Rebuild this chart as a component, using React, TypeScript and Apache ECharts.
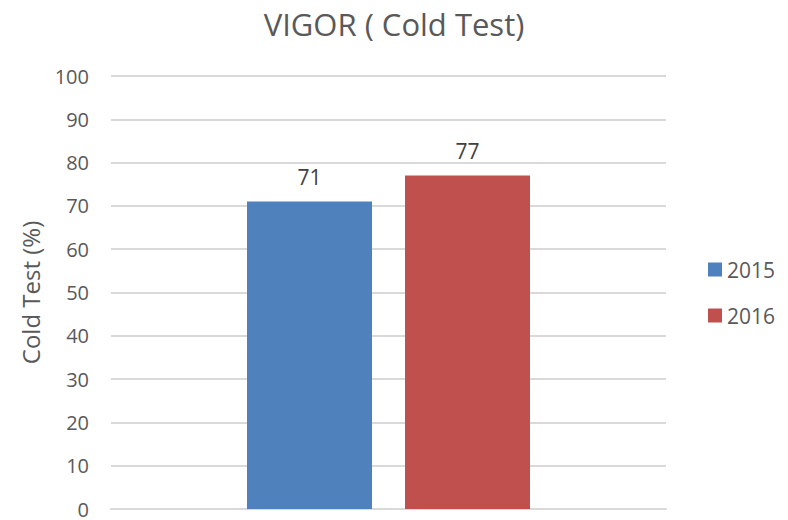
import React, { useEffect, useRef } from "react";
import * as echarts from "echarts";

const categories = ["VIGOR"];
const seriesNames = ["2015", "2016"];
const values2015 = [71];
const values2016 = [77];
const colors = ["#4f81bd", "#c0504d"];

const FONT = "'Open Sans', sans-serif";

export default function App() {
  const ref = useRef<HTMLDivElement>(null);
  useEffect(() => {
    const chart = echarts.init(ref.current!, undefined, { renderer: "svg" });
    chart.setOption({
      animation: false,
      textStyle: { fontFamily: FONT },
      title: {
        text: "VIGOR ( Cold Test)",
        left: "center",
        top: 3,
        textStyle: { fontFamily: FONT, fontSize: 31, fontWeight: "normal", color: "#595959" },
      },
      legend: {
        orient: "vertical",
        left: 708,
        top: 259,
        padding: 0,
        itemWidth: 14,
        itemHeight: 14,
        itemGap: 25,
        icon: "rect",
        textStyle: { fontFamily: FONT, fontSize: 21, color: "#595959" },
        data: seriesNames,
      },
      grid: { left: 111, right: 122, top: 76, bottom: 11 },
      xAxis: {
        type: "category",
        data: categories,
        axisLine: { show: true, lineStyle: { color: "#d9d9d9", width: 2 } },
        axisTick: { show: false },
        axisLabel: { show: false },
      },
      yAxis: {
        type: "value",
        min: 0,
        max: 100,
        interval: 10,
        name: "Cold Test (%)",
        nameLocation: "middle",
        nameGap: 69,
        nameTextStyle: { fontFamily: FONT, fontSize: 24, color: "#595959" },
        axisLine: { show: false },
        axisTick: { show: false },
        axisLabel: { fontFamily: FONT, fontSize: 20, lineHeight: 16, color: "#595959", margin: 22 },
        splitLine: { lineStyle: { color: "#d9d9d9", width: 2 } },
      },
      series: [
        {
          name: seriesNames[0],
          type: "bar",
          data: values2015,
          barWidth: 125,
          barGap: "26.4%",
          itemStyle: { color: colors[0] },
          label: { show: true, position: "top", distance: 14, fontFamily: FONT, fontSize: 21, color: "#404040" },
        },
        {
          name: seriesNames[1],
          type: "bar",
          data: values2016,
          barWidth: 125,
          barGap: "26.4%",
          itemStyle: { color: colors[1] },
          label: { show: true, position: "top", distance: 14, fontFamily: FONT, fontSize: 21, color: "#404040" },
        },
      ],
    });
    return () => chart.dispose();
  }, []);
  return <div ref={ref} style={{ width: 788, height: 520, position: "absolute", left: 0, top: 0 }} />;
}
